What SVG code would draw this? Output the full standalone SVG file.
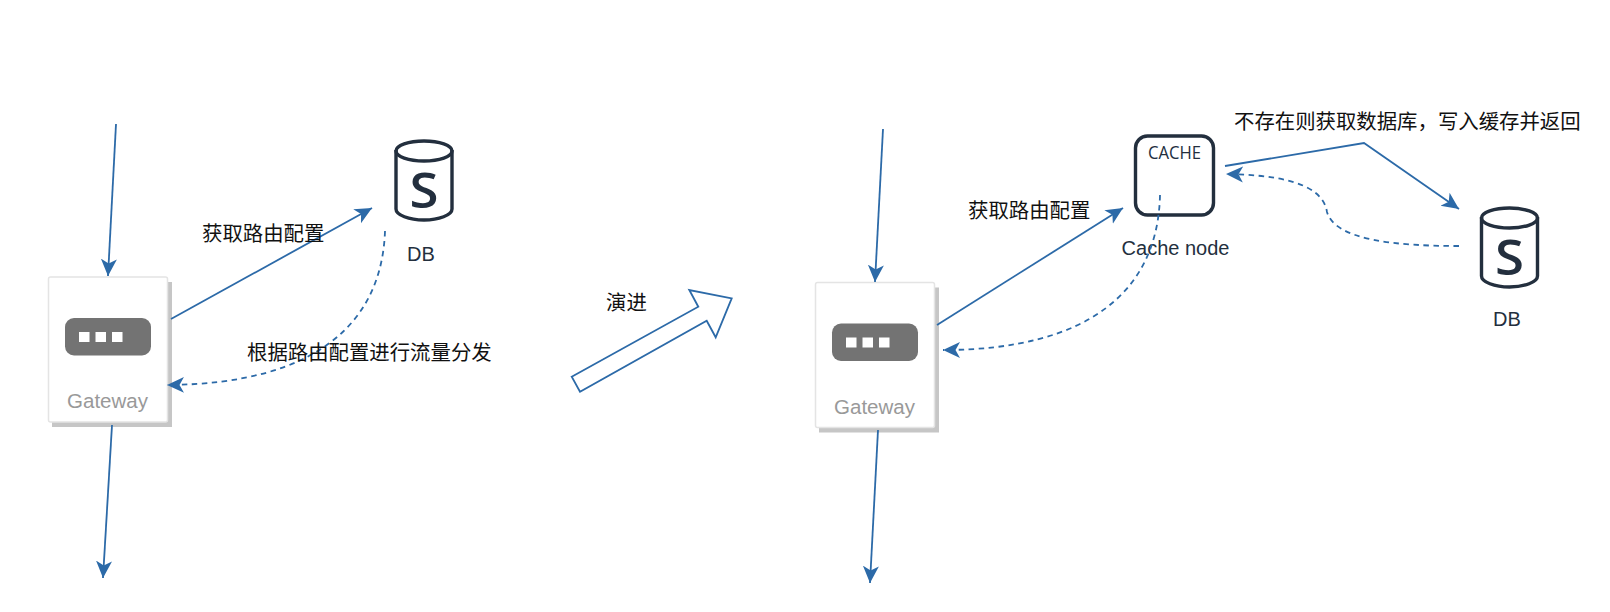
<svg xmlns="http://www.w3.org/2000/svg" width="1610" height="612" viewBox="0 0 1610 612">
<style>
.c{fill:none;stroke:#2c6aa8;stroke-width:1.8}
.d{stroke-dasharray:5.5 4.5}
.t{font-family:"Noto Sans CJK SC","Liberation Sans",sans-serif;font-size:20.4px;fill:#111}
.l{font-family:"Liberation Sans",Arial,sans-serif;font-size:20px;fill:#232f3e;text-anchor:middle}
.g{font-family:"Liberation Sans",Arial,sans-serif;font-size:20.5px;fill:#999;text-anchor:middle}
.s{fill:none;stroke:#232f3e;stroke-width:3.4}
.cap{font-family:"Open Sans",sans-serif;font-size:49px;font-weight:600;fill:#232f3e;text-anchor:middle}
</style>
<defs>
<marker id="a" markerUnits="userSpaceOnUse" markerWidth="20" markerHeight="20" refX="17" refY="10" orient="auto"><path d="M0 2L17 10L0 18L4.500 10Z" fill="#2c6aa8"/></marker>
<g id="gw"><rect x="52" y="282" width="120" height="145" fill="#c6c6c6"/><rect x="48.5" y="277" width="119" height="145" rx="2" fill="#fff" stroke="#e4e4e4" stroke-width="1.5"/><rect x="65" y="318" width="86" height="37.500" rx="9" fill="#737373"/><rect x="79" y="332" width="10.500" height="10" fill="#fff"/><rect x="95.500" y="332" width="10.500" height="10" fill="#fff"/><rect x="112" y="332" width="10.500" height="10" fill="#fff"/><text x="107.500" y="408" class="g">Gateway</text></g>
<g id="dbi"><path class="s" d="M396 150V209C396 215 409 220 424 220C439 220 452 215 452 209V150"/><ellipse class="s" cx="424" cy="151" rx="28" ry="10"/><text x="424" y="208" class="cap" textLength="29" lengthAdjust="spacingAndGlyphs">S</text></g>
</defs>
<g id="gateway1"><use href="#gw"/></g>
<g id="gateway2"><use href="#gw" x="767" y="5.5"/></g>
<g id="db1"><use href="#dbi"/><text x="421" y="261" class="l">DB</text></g>
<g id="cache"><rect class="s" x="1135.500" y="136" width="78" height="79" rx="12" fill="#fff"/><text x="1174.500" y="159" font-family="Open Sans, sans-serif" font-size="19" fill="#232f3e" text-anchor="middle" textLength="53" lengthAdjust="spacingAndGlyphs">CACHE</text><text x="1175.500" y="255" class="l">Cache node</text></g>
<g id="db2"><use href="#dbi" x="1085.5" y="67"/><text x="1507" y="326" class="l">DB</text></g>
<g id="evolve"><polygon points="571.7,376.7 698.3,306.7 689.3,290 731.7,298.3 715.7,337.3 706.7,320.7 580,391.7" fill="#fff" stroke="#2c6aa8" stroke-width="1.8"/><text x="606" y="310" class="t">演进</text></g>
<g id="connectors">
<path class="c" marker-end="url(#a)" d="M116 124L108 276"/>
<path class="c" marker-end="url(#a)" d="M112 425L103 578"/>
<path class="c" marker-end="url(#a)" d="M171 319L372 208"/>
<path class="c d" marker-end="url(#a)" d="M385 231C382 320 320 384 167 385"/>
<path class="c" marker-end="url(#a)" d="M883 129L875 282"/>
<path class="c" marker-end="url(#a)" d="M878 430L870 583"/>
<path class="c" marker-end="url(#a)" d="M937 325L1123 208"/>
<path class="c d" marker-end="url(#a)" d="M1160 195C1158 290 1090 350 943 350"/>
<path class="c" marker-end="url(#a)" d="M1225 166L1364 143L1459 209"/>
<path class="c d" marker-end="url(#a)" d="M1459 246C1395 246 1335 240 1327 212C1322 180 1270 175 1226 174"/>
</g>
<g id="labels">
<text x="202" y="241" class="t">获取路由配置</text>
<text x="247" y="360" class="t">根据路由配置进行流量分发</text>
<text x="968" y="218" class="t">获取路由配置</text>
<text x="1234" y="129" class="t">不存在则获取数据库，写入缓存并返回</text>
</g>
</svg>
